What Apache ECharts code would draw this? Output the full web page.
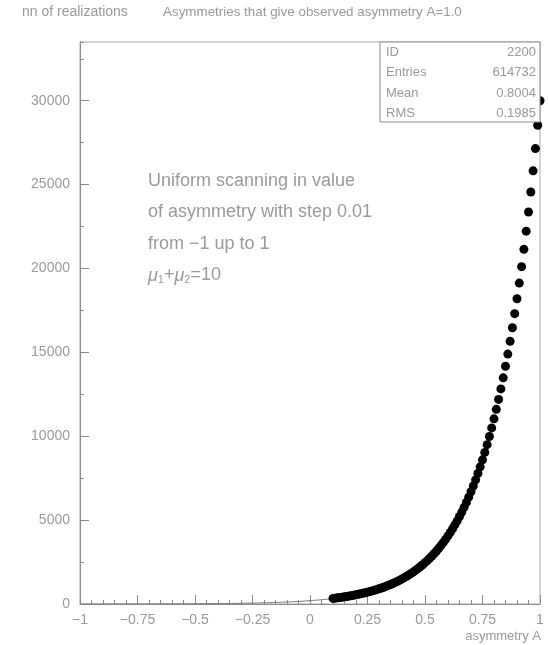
<!DOCTYPE html>
<html>
<head>
<meta charset="utf-8">
<script src="https://cdn.jsdelivr.net/npm/echarts@6/dist/echarts.min.js"></script>
<style>
  html, body { margin: 0; padding: 0; background: #fff; }
  #chart { width: 548px; height: 645px; }
</style>
</head>
<body>
<div id="chart"></div>
<script>
// Asymmetry bins (step 0.01) where the count is drawn as a thin histogram line
const lineAsym = [
  -1.00,-0.99,-0.98,-0.97,-0.96,-0.95,-0.94,-0.93,-0.92,-0.91,
  -0.90,-0.89,-0.88,-0.87,-0.86,-0.85,-0.84,-0.83,-0.82,-0.81,
  -0.80,-0.79,-0.78,-0.77,-0.76,-0.75,-0.74,-0.73,-0.72,-0.71,
  -0.70,-0.69,-0.68,-0.67,-0.66,-0.65,-0.64,-0.63,-0.62,-0.61,
  -0.60,-0.59,-0.58,-0.57,-0.56,-0.55,-0.54,-0.53,-0.52,-0.51,
  -0.50,-0.49,-0.48,-0.47,-0.46,-0.45,-0.44,-0.43,-0.42,-0.41,
  -0.40,-0.39,-0.38,-0.37,-0.36,-0.35,-0.34,-0.33,-0.32,-0.31,
  -0.30,-0.29,-0.28,-0.27,-0.26,-0.25,-0.24,-0.23,-0.22,-0.21,
  -0.20,-0.19,-0.18,-0.17,-0.16,-0.15,-0.14,-0.13,-0.12,-0.11,
  -0.10,-0.09,-0.08,-0.07,-0.06,-0.05,-0.04,-0.03,-0.02,-0.01,
  0.00,0.01,0.02,0.03,0.04,0.05,0.06,0.07,0.08,0.09
];
const lineCounts = [
  0,0,0,0,0,0,1,0,1,0,
  1,0,2,1,1,2,1,3,2,2,
  2,3,2,4,3,3,4,5,4,5,
  5,4,6,5,7,6,8,7,8,9,
  9,8,10,11,10,12,13,12,14,15,
  15,17,16,18,19,20,19,22,23,25,
  26,27,29,28,31,33,35,36,38,42,
  44,45,49,51,53,57,60,62,66,70,
  73,77,80,85,89,94,99,104,109,115,
  121,126,133,140,147,155,162,171,180,190,
  201,209,220,232,243,256,269,283,298,314
];

// Asymmetry bins drawn with filled markers
const dotAsym = [
  0.10,0.11,0.12,0.13,0.14,0.15,0.16,0.17,0.18,0.19,
  0.20,0.21,0.22,0.23,0.24,0.25,0.26,0.27,0.28,0.29,
  0.30,0.31,0.32,0.33,0.34,0.35,0.36,0.37,0.38,0.39,
  0.40,0.41,0.42,0.43,0.44,0.45,0.46,0.47,0.48,0.49,
  0.50,0.51,0.52,0.53,0.54,0.55,0.56,0.57,0.58,0.59,
  0.60,0.61,0.62,0.63,0.64,0.65,0.66,0.67,0.68,0.69,
  0.70,0.71,0.72,0.73,0.74,0.75,0.76,0.77,0.78,0.79,
  0.80,0.81,0.82,0.83,0.84,0.85,0.86,0.87,0.88,0.89,
  0.90,0.91,0.92,0.93,0.94,0.95,0.96,0.97,0.98,0.99,
  1.00
];
const dotCounts = [
  333,350,368,387,407,428,450,473,497,522,
  549,578,608,639,671,706,742,780,820,862,
  906,953,1001,1053,1107,1163,1223,1286,1352,1421,
  1494,1570,1651,1736,1825,1918,2016,2120,2228,2343,
  2463,2589,2722,2861,3008,3162,3324,3495,3674,3862,
  4060,4268,4487,4717,4959,5213,5480,5761,6057,6367,
  6694,7037,7398,7777,8176,8595,9036,9499,9986,10498,
  11036,11602,12197,12822,13480,14170,14897,15661,16464,17308,
  18196,19128,20109,21140,22224,23364,24562,25821,27145,28537,
  30000
];

// Axis settings
const xMin = -1, xMax = 1, xMajor = 0.25, xMinor = 0.05;
const yMin = 0, yMax = 33500, yMajor = 5000, yMinor = 2500;

// Statistics panel rows
const statNames = ['ID', 'Entries', 'Mean', 'RMS'];
const statValues = ['2200', '614732', '0.8004', '0.1985'];

// Annotation lines
const noteLines = ['Uniform scanning in value', 'of asymmetry with step 0.01', 'from \u22121 up to 1'];

const FONT = 'Liberation Sans';
const TXT = '#9a9a9a';
const AXIS = '#8c8c8c';

const chart = echarts.init(document.getElementById('chart'), null, { renderer: 'canvas' });

const gridL = 80, gridR = 8, gridT = 42, gridB = 41;
const W = 548, H = 645;

const graphics = [];
// stats panel
const boxX = 380, boxY = 42, boxW = W - gridR - 380, boxH = 80;
graphics.push({
  type: 'rect', z: 100,
  shape: { x: boxX, y: boxY, width: boxW, height: boxH },
  style: { fill: '#fff', stroke: '#8c8c8c', lineWidth: 1 }
});
statNames.forEach((n, i) => {
  const y = boxY + 10 + i * 20.5;
  graphics.push({ type: 'text', z: 101, x: boxX + 6, y: y,
    style: { text: n, fill: TXT, font: '13px "' + FONT + '"', textVerticalAlign: 'middle' } });
  graphics.push({ type: 'text', z: 101, x: boxX + boxW - 4, y: y,
    style: { text: statValues[i], fill: TXT, font: '13px "' + FONT + '"', textAlign: 'right', textVerticalAlign: 'middle' } });
});
// annotation
noteLines.forEach((t, i) => {
  graphics.push({ type: 'text', z: 50, x: 148, y: 181 + i * 31.5,
    style: { text: t, fill: TXT, font: '18px "' + FONT + '"', textVerticalAlign: 'middle' } });
});
graphics.push({ type: 'text', z: 50, x: 148, y: 181 + 3 * 31.5,
  style: {
    text: '{m|\u03bc}{s|1}{n|+}{m|\u03bc}{s|2}{n|=10}',
    fill: TXT, textVerticalAlign: 'middle',
    rich: {
      m: { fontSize: 18, fontFamily: FONT, fontStyle: 'italic', fill: TXT, color: TXT },
      n: { fontSize: 18, fontFamily: FONT, fill: TXT, color: TXT },
      s: { fontSize: 11, fontFamily: FONT, fill: TXT, color: TXT, padding: [9, 0, 0, 0] }
    }
  } });
// headings
graphics.push({ type: 'text', x: 22, y: 12,
  style: { text: 'nn of realizations', fill: TXT, font: '14px "' + FONT + '"', textVerticalAlign: 'middle' } });
graphics.push({ type: 'text', x: 163, y: 12,
  style: { text: 'Asymmetries that give observed asymmetry A=1.0', fill: TXT, font: '13.4px "' + FONT + '"', textVerticalAlign: 'middle' } });
graphics.push({ type: 'text', x: 541, y: 636,
  style: { text: 'asymmetry A', fill: TXT, font: '13px "' + FONT + '"', textAlign: 'right', textVerticalAlign: 'middle' } });

const fmtX = v => String(+v.toFixed(2)).replace('-', '\u2212');
const fmtY = v => String(v);

const option = {
  animation: false,
  backgroundColor: '#fff',
  grid: { left: gridL, right: gridR, top: gridT, bottom: gridB, show: true, borderColor: '#a8a8a8', borderWidth: 1 },
  xAxis: [
    {
      type: 'value', min: xMin, max: xMax, interval: xMajor, position: 'bottom',
      axisLine: { show: true, onZero: false, lineStyle: { color: AXIS, width: 1 } },
      axisTick: { show: true, inside: true, length: 9, lineStyle: { color: AXIS } },
      axisLabel: { color: TXT, fontFamily: FONT, fontSize: 14, margin: 9, formatter: fmtX },
      splitLine: { show: false }
    },
    {
      type: 'value', min: xMin, max: xMax, interval: xMinor, position: 'bottom',
      axisLine: { show: false, onZero: false },
      axisTick: { show: true, inside: true, length: 4, lineStyle: { color: AXIS } },
      axisLabel: { show: false },
      splitLine: { show: false }
    }
  ],
  yAxis: [
    {
      type: 'value', min: yMin, max: yMax, interval: yMajor, position: 'left',
      axisLine: { show: true, onZero: false, lineStyle: { color: AXIS, width: 1 } },
      axisTick: { show: true, inside: true, length: 9, lineStyle: { color: AXIS } },
      axisLabel: { color: TXT, fontFamily: FONT, fontSize: 14, margin: 10, showMaxLabel: false, formatter: fmtY },
      splitLine: { show: false }
    },
    {
      type: 'value', min: yMin, max: yMax, interval: yMinor, position: 'left',
      axisLine: { show: false, onZero: false },
      axisTick: { show: true, inside: true, length: 4, lineStyle: { color: AXIS } },
      axisLabel: { show: false },
      splitLine: { show: false }
    }
  ],
  series: [
    {
      type: 'line', step: 'middle', symbol: 'none',
      xAxisIndex: 0, yAxisIndex: 0,
      lineStyle: { color: '#7a7a7a', width: 1 },
      data: lineAsym.map((a, i) => [a, lineCounts[i]]),
      z: 3
    },
    {
      type: 'scatter', symbol: 'circle', symbolSize: 9,
      xAxisIndex: 0, yAxisIndex: 0,
      itemStyle: { color: '#000', opacity: 1 },
      data: dotAsym.map((a, i) => [a, dotCounts[i]]),
      z: 4
    }
  ],
  graphic: graphics
};

chart.setOption(option);
</script>
</body>
</html>
